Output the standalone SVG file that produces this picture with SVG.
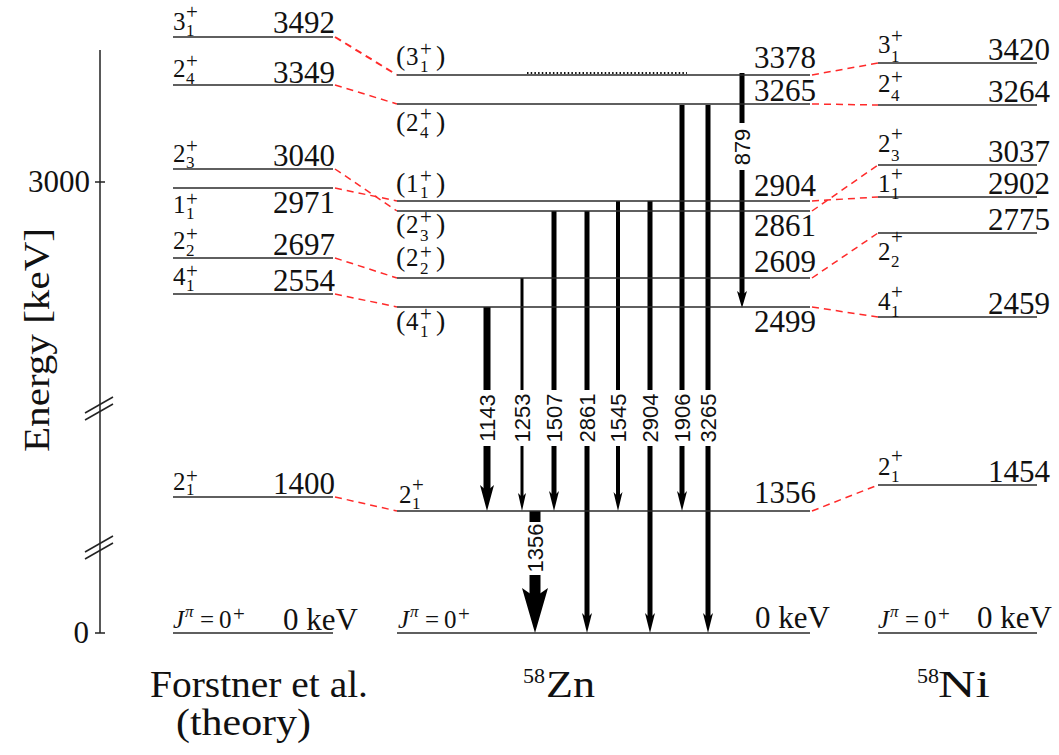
<svg xmlns="http://www.w3.org/2000/svg" width="1059" height="755" viewBox="0 0 1059 755">
<style>
text{font-family:"Liberation Serif","DejaVu Serif",serif;fill:#111}
.lv{stroke:#2a2a2a;stroke-width:1.6}
.cn{stroke:#ff2a2a;stroke-width:1.5;stroke-dasharray:7 5;fill:none}
.num{font-size:31px;text-anchor:end}
.sp{font-size:25px}
.ss{font-size:17px}
.pl{font-size:21px}
.pr{font-size:28px}
.gl{font-family:"Liberation Sans","DejaVu Sans",sans-serif;font-size:22px;text-anchor:middle;dominant-baseline:central}
.ax{stroke:#222;stroke-width:1.5}
.big{font-size:38px}
</style>
<rect width="1059" height="755" fill="#fff"/>

<!-- axis -->
<g id="axis">
  <line class="ax" x1="100" y1="50" x2="100" y2="633"/>
  <line class="ax" x1="95" y1="182" x2="105" y2="182"/>
  <line class="ax" x1="95" y1="633" x2="105" y2="633"/>
  <line class="ax" x1="85" y1="413" x2="113" y2="397"/>
  <line class="ax" x1="85" y1="420" x2="113" y2="404"/>
  <line class="ax" x1="85" y1="552" x2="113" y2="536"/>
  <line class="ax" x1="85" y1="559" x2="113" y2="543"/>
  <text class="num" x="90" y="192">3000</text>
  <text class="num" x="89" y="643">0</text>
  <text font-size="36" text-anchor="middle" transform="translate(49,340) rotate(-90)" textLength="224" lengthAdjust="spacingAndGlyphs">Energy [keV]</text>
</g>

<!-- connectors -->
<g id="connectors">
  <line class="cn" x1="335" y1="37" x2="397" y2="75" style="stroke-width:2"/>
  <line class="cn" x1="335" y1="85" x2="397" y2="104"/>
  <line class="cn" x1="335" y1="169" x2="397" y2="211"/>
  <line class="cn" x1="335" y1="188" x2="397" y2="201"/>
  <line class="cn" x1="335" y1="258" x2="397" y2="278"/>
  <line class="cn" x1="335" y1="294" x2="397" y2="307"/>
  <line class="cn" x1="335" y1="497" x2="397" y2="511"/>
  <line class="cn" x1="812" y1="75" x2="878" y2="63"/>
  <line class="cn" x1="812" y1="104" x2="878" y2="105"/>
  <line class="cn" x1="812" y1="201" x2="878" y2="197"/>
  <line class="cn" x1="812" y1="211" x2="878" y2="165"/>
  <line class="cn" x1="812" y1="278" x2="878" y2="233"/>
  <line class="cn" x1="812" y1="307" x2="878" y2="317"/>
  <line class="cn" x1="812" y1="511" x2="878" y2="485"/>

  <g id="gammas" stroke="#000" fill="#000">
    <!-- 1143 -->
    <line x1="487" y1="307" x2="487" y2="390" stroke-width="7"/>
    <line x1="487" y1="446" x2="487" y2="492" stroke-width="7"/>
    <path d="M480,485 L487,511 L494,485 L487,491 Z" stroke="none"/>
    <!-- 1253 -->
    <line x1="522" y1="278" x2="522" y2="390" stroke-width="3"/>
    <line x1="522" y1="446" x2="522" y2="498" stroke-width="3"/>
    <path d="M518,493 L522,511 L526,493 L522,497 Z" stroke="none"/>
    <!-- 1507 -->
    <line x1="554" y1="211" x2="554" y2="390" stroke-width="5"/>
    <line x1="554" y1="446" x2="554" y2="497" stroke-width="5"/>
    <path d="M549,491 L554,511 L559,491 L554,496 Z" stroke="none"/>
    <!-- 2861 -->
    <line x1="587" y1="211" x2="587" y2="390" stroke-width="5"/>
    <line x1="587" y1="446" x2="587" y2="619" stroke-width="5"/>
    <path d="M582,613 L587,633 L592,613 L587,618 Z" stroke="none"/>
    <!-- 1545 -->
    <line x1="618" y1="201" x2="618" y2="390" stroke-width="4"/>
    <line x1="618" y1="446" x2="618" y2="497" stroke-width="4"/>
    <path d="M613.5,492 L618,511 L622.5,492 L618,497 Z" stroke="none"/>
    <!-- 2904 -->
    <line x1="650" y1="201" x2="650" y2="390" stroke-width="5"/>
    <line x1="650" y1="446" x2="650" y2="619" stroke-width="5"/>
    <path d="M645,613 L650,633 L655,613 L650,618 Z" stroke="none"/>
    <!-- 1906 -->
    <line x1="682" y1="105" x2="682" y2="390" stroke-width="5"/>
    <line x1="682" y1="446" x2="682" y2="497" stroke-width="5"/>
    <path d="M677,491 L682,511 L687,491 L682,496 Z" stroke="none"/>
    <!-- 3265 -->
    <line x1="708" y1="105" x2="708" y2="390" stroke-width="5"/>
    <line x1="708" y1="446" x2="708" y2="619" stroke-width="5"/>
    <path d="M703,613 L708,633 L713,613 L708,618 Z" stroke="none"/>
    <!-- 879 -->
    <line x1="742" y1="73" x2="742" y2="123" stroke-width="5"/>
    <line x1="742" y1="170" x2="742" y2="296" stroke-width="5"/>
    <path d="M737,291 L742,308 L747,291 L742,295 Z" stroke="none"/>
    <!-- 1356 -->
    <line x1="535" y1="511" x2="535" y2="522" stroke-width="11"/>
    <line x1="535" y1="575" x2="535" y2="600" stroke-width="11"/>
    <path d="M522,588 L535,633 L548,588 L535,597 Z" stroke="none"/>
  </g>
  <g id="gamma-labels">
    <text class="gl" transform="translate(487,418) rotate(-90)">1143</text>
    <text class="gl" transform="translate(522,418) rotate(-90)">1253</text>
    <text class="gl" transform="translate(554,418) rotate(-90)">1507</text>
    <text class="gl" transform="translate(587,418) rotate(-90)">2861</text>
    <text class="gl" transform="translate(618,418) rotate(-90)">1545</text>
    <text class="gl" transform="translate(650,418) rotate(-90)">2904</text>
    <text class="gl" transform="translate(682,418) rotate(-90)">1906</text>
    <text class="gl" transform="translate(708,418) rotate(-90)">3265</text>
    <text class="gl" transform="translate(742,147) rotate(-90)">879</text>
    <text class="gl" transform="translate(535,548) rotate(-90)">1356</text>
  </g>
</g>

<!-- Theory (Forstner et al.) -->
<g id="theory">
  <g id="L3492"><line class="lv" x1="173" y1="37" x2="333" y2="37"/>
    <text class="sp"><tspan x="173" y="30">3</tspan><tspan class="ss" x="186" y="36">1</tspan><tspan class="pl" x="186" y="19">+</tspan></text>
    <text class="num" x="335" y="33">3492</text></g>
  <g id="L3349"><line class="lv" x1="173" y1="85" x2="333" y2="85"/>
    <text class="sp"><tspan x="173" y="77">2</tspan><tspan class="ss" x="186" y="84">4</tspan><tspan class="pl" x="186" y="68">+</tspan></text>
    <text class="num" x="335" y="83">3349</text></g>
  <g id="L3040"><line class="lv" x1="173" y1="169" x2="333" y2="169"/>
    <text class="sp"><tspan x="173" y="162">2</tspan><tspan class="ss" x="186" y="168">3</tspan><tspan class="pl" x="186" y="153">+</tspan></text>
    <text class="num" x="335" y="166">3040</text></g>
  <g id="L2971"><line class="lv" x1="173" y1="188" x2="333" y2="188"/>
    <text class="sp"><tspan x="173" y="213">1</tspan><tspan class="ss" x="186" y="219">1</tspan><tspan class="pl" x="186" y="206">+</tspan></text>
    <text class="num" x="335" y="213">2971</text></g>
  <g id="L2697"><line class="lv" x1="173" y1="258" x2="333" y2="258"/>
    <text class="sp"><tspan x="173" y="249">2</tspan><tspan class="ss" x="186" y="256">2</tspan><tspan class="pl" x="186" y="241">+</tspan></text>
    <text class="num" x="335" y="255">2697</text></g>
  <g id="L2554"><line class="lv" x1="173" y1="294" x2="333" y2="294"/>
    <text class="sp"><tspan x="173" y="285">4</tspan><tspan class="ss" x="186" y="291">1</tspan><tspan class="pl" x="186" y="278">+</tspan></text>
    <text class="num" x="335" y="291">2554</text></g>
  <g id="L1400"><line class="lv" x1="173" y1="497" x2="333" y2="497"/>
    <text class="sp"><tspan x="173" y="490">2</tspan><tspan class="ss" x="186" y="495">1</tspan><tspan class="pl" x="186" y="483">+</tspan></text>
    <text class="num" x="335" y="494">1400</text></g>
  <g id="L0"><line class="lv" x1="173" y1="633" x2="333" y2="633"/>
    <text class="sp"><tspan x="173" y="628" font-style="italic">J</tspan><tspan class="ss" font-style="italic" x="185" y="617">π</tspan><tspan x="200" y="628">=</tspan><tspan x="219" y="628">0</tspan><tspan class="pl" x="233" y="621">+</tspan></text>
    <text class="num" x="358" y="630">0 keV</text></g>
  <text class="big" x="150" y="697" textLength="218" lengthAdjust="spacingAndGlyphs">Forstner et al.</text>
  <text class="big" x="176" y="735" textLength="135" lengthAdjust="spacingAndGlyphs">(theory)</text>
</g>

<!-- 58Zn -->
<g id="zn58">
  <g id="Z3378"><line class="lv" x1="397" y1="75" x2="810" y2="75"/>
    <line x1="527" y1="73" x2="687" y2="73" stroke="#111" stroke-width="1.8" stroke-dasharray="1.5 2.2"/>
    <text class="sp"><tspan class="pr" x="396" y="65">(</tspan><tspan x="406" y="65">3</tspan><tspan class="ss" x="420" y="72">1</tspan><tspan class="pl" x="420" y="56">+</tspan><tspan class="pr" x="436" y="65">)</tspan></text>
    <text class="num" x="816" y="68">3378</text></g>
  <g id="Z3265"><line class="lv" x1="397" y1="104" x2="810" y2="104"/>
    <text class="sp"><tspan class="pr" x="396" y="131">(</tspan><tspan x="406" y="131">2</tspan><tspan class="ss" x="420" y="138">4</tspan><tspan class="pl" x="420" y="121">+</tspan><tspan class="pr" x="436" y="131">)</tspan></text>
    <text class="num" x="816" y="101">3265</text></g>
  <g id="Z2904"><line class="lv" x1="397" y1="201" x2="810" y2="201"/>
    <text class="sp"><tspan class="pr" x="396" y="192">(</tspan><tspan x="406" y="192">1</tspan><tspan class="ss" x="420" y="198">1</tspan><tspan class="pl" x="420" y="183">+</tspan><tspan class="pr" x="436" y="192">)</tspan></text>
    <text class="num" x="816" y="196">2904</text></g>
  <g id="Z2861"><line class="lv" x1="397" y1="211" x2="810" y2="211"/>
    <text class="sp"><tspan class="pr" x="396" y="233">(</tspan><tspan x="406" y="233">2</tspan><tspan class="ss" x="420" y="241">3</tspan><tspan class="pl" x="420" y="224">+</tspan><tspan class="pr" x="436" y="233">)</tspan></text>
    <text class="num" x="816" y="236">2861</text></g>
  <g id="Z2609"><line class="lv" x1="397" y1="278" x2="810" y2="278"/>
    <text class="sp"><tspan class="pr" x="396" y="266">(</tspan><tspan x="406" y="266">2</tspan><tspan class="ss" x="420" y="274">2</tspan><tspan class="pl" x="420" y="259">+</tspan><tspan class="pr" x="436" y="266">)</tspan></text>
    <text class="num" x="816" y="272">2609</text></g>
  <g id="Z2499"><line class="lv" x1="397" y1="307" x2="810" y2="307"/>
    <text class="sp"><tspan class="pr" x="396" y="330">(</tspan><tspan x="406" y="330">4</tspan><tspan class="ss" x="420" y="337">1</tspan><tspan class="pl" x="420" y="321">+</tspan><tspan class="pr" x="436" y="330">)</tspan></text>
    <text class="num" x="816" y="332">2499</text></g>
  <g id="Z1356"><line class="lv" x1="397" y1="511" x2="810" y2="511"/>
    <text class="sp"><tspan x="399" y="503">2</tspan><tspan class="ss" x="412" y="509">1</tspan><tspan class="pl" x="412" y="492">+</tspan></text>
    <text class="num" x="816" y="503">1356</text></g>
  <g id="Z0"><line class="lv" x1="397" y1="633" x2="810" y2="633"/>
    <text class="sp"><tspan x="398" y="628" font-style="italic">J</tspan><tspan class="ss" font-style="italic" x="410" y="617">π</tspan><tspan x="425" y="628">=</tspan><tspan x="444" y="628">0</tspan><tspan class="pl" x="458" y="621">+</tspan></text>
    <text class="num" x="830" y="628">0 keV</text></g>
  <text x="523" y="683" font-size="22">58</text>
  <text class="big" x="546" y="697" textLength="49" lengthAdjust="spacingAndGlyphs">Zn</text>
</g>

<!-- 58Ni -->
<g id="ni58">
  <g id="N3420"><line class="lv" x1="878" y1="63" x2="1037" y2="63"/>
    <text class="sp"><tspan x="878" y="53">3</tspan><tspan class="ss" x="891" y="62">1</tspan><tspan class="pl" x="891" y="43">+</tspan></text>
    <text class="num" x="1050" y="60">3420</text></g>
  <g id="N3264"><line class="lv" x1="878" y1="105" x2="1037" y2="105"/>
    <text class="sp"><tspan x="878" y="92">2</tspan><tspan class="ss" x="891" y="101">4</tspan><tspan class="pl" x="891" y="84">+</tspan></text>
    <text class="num" x="1050" y="102">3264</text></g>
  <g id="N3037"><line class="lv" x1="878" y1="165" x2="1037" y2="165"/>
    <text class="sp"><tspan x="878" y="152">2</tspan><tspan class="ss" x="891" y="161">3</tspan><tspan class="pl" x="891" y="141">+</tspan></text>
    <text class="num" x="1050" y="162">3037</text></g>
  <g id="N2902"><line class="lv" x1="878" y1="197" x2="1037" y2="197"/>
    <text class="sp"><tspan x="878" y="192">1</tspan><tspan class="ss" x="891" y="199">1</tspan><tspan class="pl" x="891" y="181">+</tspan></text>
    <text class="num" x="1050" y="194">2902</text></g>
  <g id="N2775"><line class="lv" x1="878" y1="233" x2="1037" y2="233"/>
    <text class="sp"><tspan x="878" y="260">2</tspan><tspan class="ss" x="891" y="267">2</tspan><tspan class="pl" x="891" y="244">+</tspan></text>
    <text class="num" x="1050" y="230">2775</text></g>
  <g id="N2459"><line class="lv" x1="878" y1="317" x2="1037" y2="317"/>
    <text class="sp"><tspan x="878" y="310">4</tspan><tspan class="ss" x="891" y="317">1</tspan><tspan class="pl" x="891" y="299">+</tspan></text>
    <text class="num" x="1050" y="314">2459</text></g>
  <g id="N1454"><line class="lv" x1="878" y1="485" x2="1037" y2="485"/>
    <text class="sp"><tspan x="878" y="475">2</tspan><tspan class="ss" x="891" y="482">1</tspan><tspan class="pl" x="891" y="463">+</tspan></text>
    <text class="num" x="1050" y="482">1454</text></g>
  <g id="N0"><line class="lv" x1="878" y1="633" x2="1037" y2="633"/>
    <text class="sp"><tspan x="878" y="628" font-style="italic">J</tspan><tspan class="ss" font-style="italic" x="890" y="617">π</tspan><tspan x="905" y="628">=</tspan><tspan x="924" y="628">0</tspan><tspan class="pl" x="938" y="621">+</tspan></text>
    <text class="num" x="1052" y="628">0 keV</text></g>
  <text x="917" y="683" font-size="22">58</text>
  <text class="big" x="938" y="697" textLength="52" lengthAdjust="spacingAndGlyphs">Ni</text>
</g>
</svg>
